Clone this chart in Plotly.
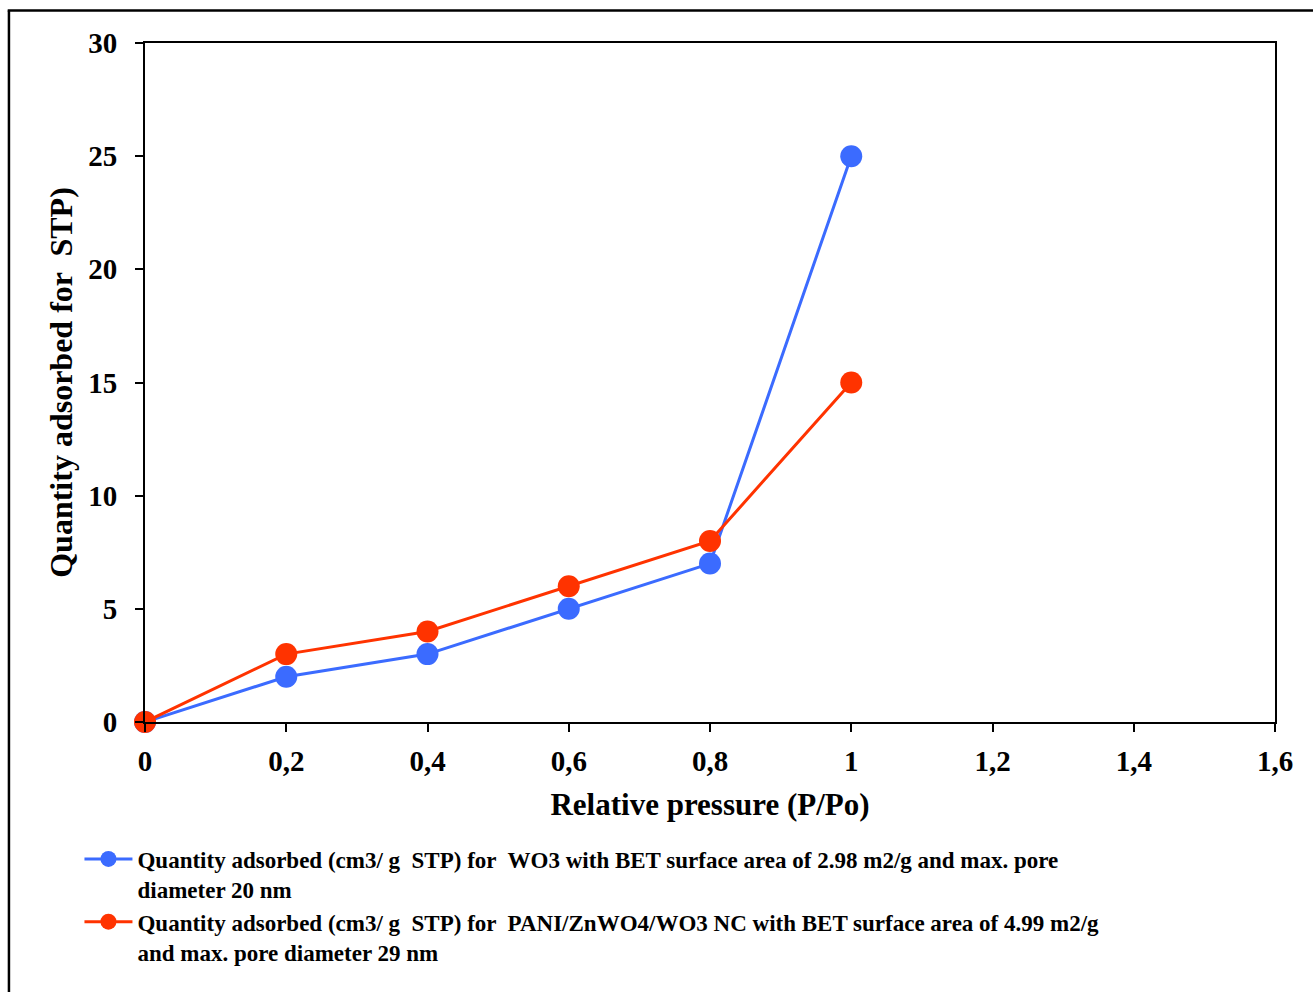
import plotly.graph_objects as go

# Relative pressure (P/Po) and adsorbed quantities
pressure = [0, 0.2, 0.4, 0.6, 0.8, 1.0]
wo3_qty = [0, 2, 3, 5, 7, 25]
nc_qty = [0, 3, 4, 6, 8, 15]

x_ticks = [0, 0.2, 0.4, 0.6, 0.8, 1.0, 1.2, 1.4, 1.6]
x_tick_text = ["0", "0,2", "0,4", "0,6", "0,8", "1", "1,2", "1,4", "1,6"]
y_ticks = [0, 5, 10, 15, 20, 25, 30]

wo3_name = ("Quantity adsorbed (cm3/ g &nbsp;STP) for &nbsp;WO3 with BET surface area of 2.98 m2/g and max. pore"
            "<br>diameter 20 nm")
nc_name = ("Quantity adsorbed (cm3/ g &nbsp;STP) for &nbsp;PANI/ZnWO4/WO3 NC with BET surface area of 4.99 m2/g"
           "<br>and max. pore diameter 29 nm")

BLUE = "#3B6BFF"
RED = "#FF3300"
FONT = "Liberation Serif"

fig = go.Figure()
fig.add_trace(go.Scatter(
    x=pressure, y=wo3_qty, name=wo3_name, mode="lines+markers", cliponaxis=False,
    line=dict(color=BLUE, width=3), marker=dict(color=BLUE, size=22),
))
fig.add_trace(go.Scatter(
    x=pressure, y=nc_qty, name=nc_name, mode="lines+markers", cliponaxis=False,
    line=dict(color=RED, width=3), marker=dict(color=RED, size=22),
))

axis_common = dict(
    showline=True, linecolor="black", linewidth=2, mirror=True,
    ticks="outside", ticklen=8, tickwidth=2, tickcolor="black",
    showgrid=False, zeroline=False,
    tickfont=dict(family=FONT, size=29, color="black"),
)

fig.update_xaxes(
    range=[0, 1.6], tickvals=x_ticks,
    ticktext=[f"<b>{t}</b>" for t in x_tick_text], ticklabelstandoff=4,
    title=dict(text="<b>Relative pressure (P/Po)</b>",
               font=dict(family=FONT, size=31, color="black"), standoff=18),
    **axis_common,
)
fig.update_yaxes(
    range=[0, 30], tickvals=y_ticks,
    ticktext=[f"<b>{t}</b>" for t in y_ticks], ticklabelstandoff=12,
    title=dict(text="<b>Quantity adsorbed for &nbsp;STP)</b>",
               font=dict(family=FONT, size=32, color="black"), standoff=6),
    **axis_common,
)

# outer frame (left and top edges)
fig.add_shape(type="line", xref="paper", yref="paper",
              x0=-0.1204, x1=-0.1204, y0=-0.45, y1=1.048,
              line=dict(color="black", width=2.5))
fig.add_shape(type="line", xref="paper", yref="paper",
              x0=-0.1215, x1=1.06, y0=1.048, y1=1.048,
              line=dict(color="black", width=2.5))

fig.update_layout(
    width=1313, height=992,
    margin=dict(l=145, r=38, t=43, b=270),
    paper_bgcolor="white", plot_bgcolor="white",
    showlegend=True,
    legend=dict(
        x=-0.058, y=-0.17, xanchor="left", yanchor="top", valign="top",
        font=dict(family=FONT, size=23, color="black", weight="bold"),
        bgcolor="rgba(0,0,0,0)", tracegroupgap=0, itemwidth=48,
    ),
)

fig.write_html("out.html")
